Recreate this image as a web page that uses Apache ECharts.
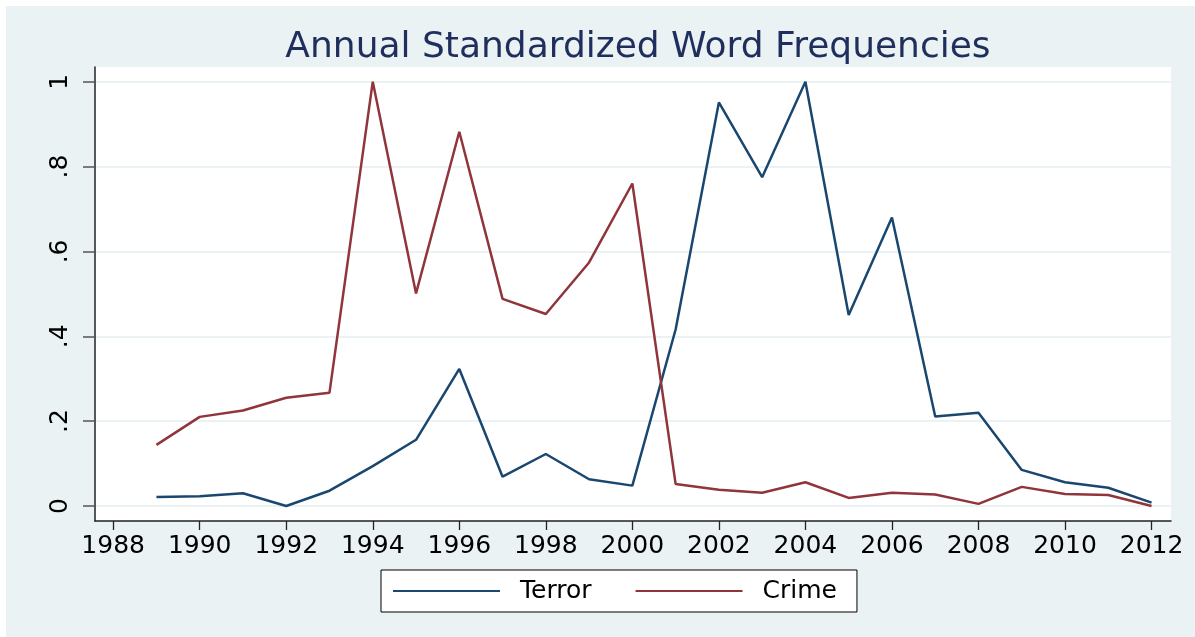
<!DOCTYPE html>
<html>
<head>
<meta charset="utf-8">
<script src="https://cdn.jsdelivr.net/npm/echarts@6/dist/echarts.min.js"></script>
<style>
  html, body { margin: 0; padding: 0; background: #ffffff; }
  #chart { position: absolute; left: 6px; top: 6px; width: 1189px; height: 631px; }
</style>
</head>
<body>
<div id="chart"></div>
<script>
const titleText = 'Annual Standardized Word Frequencies';
const years = [1989, 1990, 1991, 1992, 1993, 1994, 1995, 1996, 1997, 1998, 1999, 2000,
               2001, 2002, 2003, 2004, 2005, 2006, 2007, 2008, 2009, 2010, 2011, 2012];
const terror = [0.021, 0.023, 0.030, 0.000, 0.036, 0.094, 0.156, 0.323, 0.069, 0.1225, 0.063, 0.048,
                0.416, 0.951, 0.775, 1.000, 0.450, 0.680, 0.211, 0.220, 0.085, 0.056, 0.043, 0.008];
const crime = [0.144, 0.210, 0.225, 0.255, 0.267, 1.000, 0.501, 0.882, 0.488, 0.4525, 0.574, 0.760,
               0.052, 0.038, 0.031, 0.056, 0.019, 0.031, 0.027, 0.005, 0.045, 0.028, 0.026, 0.000];
const xTicks = [1988, 1990, 1992, 1994, 1996, 1998, 2000, 2002, 2004, 2006, 2008, 2010, 2012];
const yTicks = [0, 0.2, 0.4, 0.6, 0.8, 1];
const yTickLabels = ['0', '.2', '.4', '.6', '.8', '1'];
const seriesNames = ['Terror', 'Crime'];

const FONT = 'DejaVu Sans';
const chart = echarts.init(document.getElementById('chart'), null, { renderer: 'canvas' });

function pairs(vals) { return years.map((y, i) => [y, vals[i]]); }

chart.setOption({
  backgroundColor: '#eaf2f3',
  animation: false,
  title: {
    text: titleText,
    left: 627,
    textAlign: 'center',
    top: 19,
    textStyle: { fontFamily: FONT, fontSize: 36, fontWeight: 'normal', color: '#1f2e5c' }
  },
  grid: {
    left: 89, right: 24, top: 61, bottom: 116,
    show: true, backgroundColor: '#ffffff', borderWidth: 0
  },
  legend: {
    left: 375, top: 564,
    orient: 'horizontal',
    backgroundColor: '#ffffff',
    borderColor: '#000000',
    borderWidth: 1,
    borderRadius: 0,
    padding: [8, 20, 8, 12],
    itemGap: 44,
    itemWidth: 107,
    itemHeight: 2,
    icon: 'rect',
    textStyle: { fontFamily: FONT, fontSize: 25, color: '#000', lineHeight: 26, padding: [0, 0, 0, 15] },
    data: seriesNames
  },
  xAxis: {
    type: 'value',
    min: 1987.58, max: 2012.45,
    axisLine: { show: true, onZero: false, lineStyle: { color: '#222', width: 1.5 } },
    axisTick: { show: true, length: 9, customValues: xTicks, lineStyle: { color: '#222', width: 1.3 } },
    axisLabel: {
      customValues: xTicks, margin: 13,
      fontFamily: FONT, fontSize: 25, color: '#000',
      formatter: v => String(Math.round(v))
    },
    splitLine: { show: false }
  },
  yAxis: {
    type: 'value',
    min: -0.0354, max: 1.0346,
    axisLine: { show: true, onZero: false, lineStyle: { color: '#222', width: 1.5 } },
    axisTick: { show: true, length: 12, customValues: yTicks, lineStyle: { color: '#555', width: 1.5 } },
    axisLabel: {
      customValues: yTicks, margin: 22, rotate: 90,
      fontFamily: FONT, fontSize: 25, color: '#000',
      formatter: v => {
        const i = yTicks.findIndex(t => Math.abs(t - v) < 1e-6);
        return i >= 0 ? yTickLabels[i] : '';
      }
    },
    splitLine: { show: true, customValues: yTicks, lineStyle: { color: '#eaf2f3', width: 2 } }
  },
  series: [
    {
      name: seriesNames[0], type: 'line', data: pairs(terror),
      showSymbol: false, symbol: 'none',
      lineStyle: { color: '#1a476f', width: 2.5 }, itemStyle: { color: '#1a476f' }
    },
    {
      name: seriesNames[1], type: 'line', data: pairs(crime),
      showSymbol: false, symbol: 'none',
      lineStyle: { color: '#90353b', width: 2.5 }, itemStyle: { color: '#90353b' }
    }
  ]
});
</script>
</body>
</html>
